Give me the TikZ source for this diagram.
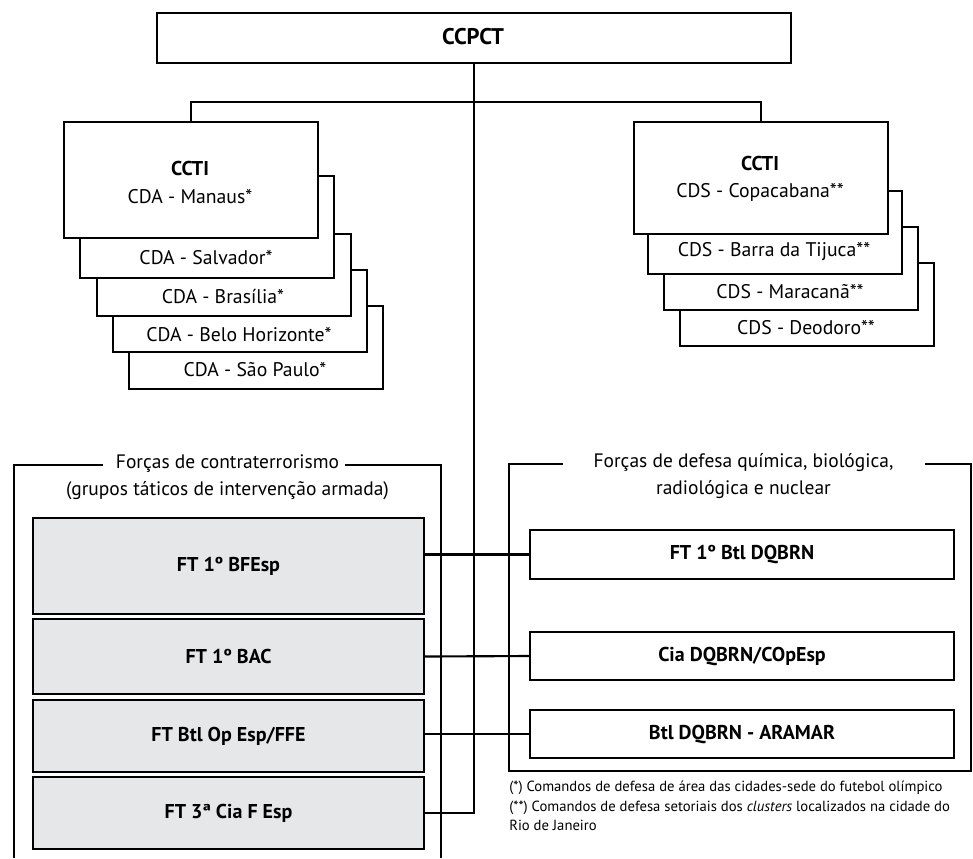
\documentclass[tikz,border=0pt]{standalone}
\usepackage{fontspec}
\setmainfont{PT Sans}
\newdimen\pxu \pxu=0.75pt
\definecolor{boxgray}{HTML}{E6E7E8}
\begin{document}
\begin{tikzpicture}[x=0.75pt, y=-0.75pt,
  box/.style={draw, line width=1.5pt, inner sep=0pt, fill=white, anchor=north west},
  graybox/.style={box, fill=boxgray, font=\fontsize{15}{17}\selectfont\bfseries},
  rbox/.style={box, font=\fontsize{15}{17}\selectfont\bfseries},
  lbl/.style={inner sep=0pt, font=\fontsize{14.8}{17}\selectfont},
  blbl/.style={inner sep=0pt, font=\fontsize{15}{17}\selectfont\bfseries},
  ttl/.style={inner sep=0pt, align=center, font=\fontsize{14.6}{20}\selectfont},
  conn/.style={line width=1.6pt},
  frm/.style={line width=0.8pt}]
\useasboundingbox (0,0) rectangle (973,858);

% top
\node[box, minimum width=634\pxu, minimum height=50\pxu] (ccpct) at (156,12) {};
\node[blbl, font=\fontsize{17}{19}\selectfont\bfseries] (tccpct) at (473,37) {CCPCT};

% left stack (back to front)
\node[box, minimum width=254\pxu, minimum height=83\pxu] (l5) at (128,305) {};
\node[box, minimum width=254\pxu, minimum height=82\pxu] (l4) at (112,269) {};
\node[box, minimum width=254\pxu, minimum height=82\pxu] (l3) at (96,233) {};
\node[box, minimum width=254\pxu, minimum height=102\pxu] (l2) at (79,175) {};
\node[box, minimum width=254\pxu, minimum height=116\pxu] (l1) at (63,121) {};
\node[blbl] (tl1a) at (190,168) {CCTI};
\node[lbl] (tl1b) at (190,197) {CDA - Manaus*};
\node[lbl] (tl2) at (206,258) {CDA - Salvador*};
\node[lbl] (tl3) at (223,297) {CDA - Brasília*};
\node[lbl] (tl4) at (239,335) {CDA - Belo Horizonte*};
\node[lbl] (tl5) at (255,370) {CDA - São Paulo*};

% right stack (back to front)
\node[box, minimum width=254\pxu, minimum height=83\pxu] (s4) at (679,262) {};
\node[box, minimum width=254\pxu, minimum height=83\pxu] (s3) at (663,226) {};
\node[box, minimum width=254\pxu, minimum height=83\pxu] (s2) at (647,190) {};
\node[box, minimum width=254\pxu, minimum height=112\pxu] (s1) at (633,121) {};
\node[blbl] (ts1a) at (760,163) {CCTI};
\node[lbl] (ts1b) at (760,192) {CDS - Copacabana**};
\node[lbl] (ts2) at (774,252) {CDS - Barra da Tijuca**};
\node[lbl] (ts3) at (790,292) {CDS - Maracanã**};
\node[lbl] (ts4) at (806,328) {CDS - Deodoro**};

% frames
\draw[frm] (103,465) -- (14,465) -- (14,858);
\draw[frm] (345,465) -- (441,465) -- (441,858);
\node[ttl] (ttlL) at (227.5,477) {Forças de contraterrorismo\\(grupos táticos de intervenção armada)};
\draw[frm] (563,464) -- (509,464) -- (509,771) -- (971,771) -- (971,464) -- (925,464);
\node[ttl] (ttlR) at (743.5,476) {Forças de defesa química, biológica,\\radiológica e nuclear};

% gray boxes
\node[graybox, minimum width=391\pxu, minimum height=96\pxu] (f1) at (32,517) {FT 1º BFEsp};
\node[graybox, minimum width=391\pxu, minimum height=75\pxu] (f2) at (32,618) {FT 1º BAC};
\node[graybox, minimum width=391\pxu, minimum height=72\pxu] (f3) at (32,699) {FT Btl Op Esp/FFE};
\node[graybox, minimum width=391\pxu, minimum height=72\pxu] (f4) at (32,776) {FT 3ª Cia F Esp};

% right boxes
\node[rbox, minimum width=424\pxu, minimum height=49\pxu] (r1) at (529,529) {FT 1º Btl DQBRN};
\node[rbox, minimum width=424\pxu, minimum height=48\pxu] (r2) at (529,631) {Cia DQBRN/COpEsp};
\node[rbox, minimum width=424\pxu, minimum height=48\pxu] (r3) at (529,709) {Btl DQBRN - ARAMAR};

% connectors
\draw[conn] (ccpct.south) |- (f4.east);
\draw[conn] (l1.north) -- ++(0,-19) -| (s1.north);
\draw[conn] (r1.west -| f1.east) -- (r1.west);
\draw[conn] (f2.east) -- (r2.west);
\draw[conn] (r3.west -| f3.east) -- (r3.west);

% footnote
\node[inner sep=0pt, anchor=north west, align=left, font=\fontsize{11}{14.6}\selectfont] (fn) at (509,781)
  {(*) Comandos de defesa de área das cidades-sede do futebol olímpico\\
   (**) Comandos de defesa setoriais dos \textit{clusters} localizados na cidade do\\
   Rio de Janeiro};
\end{tikzpicture}
\end{document}
